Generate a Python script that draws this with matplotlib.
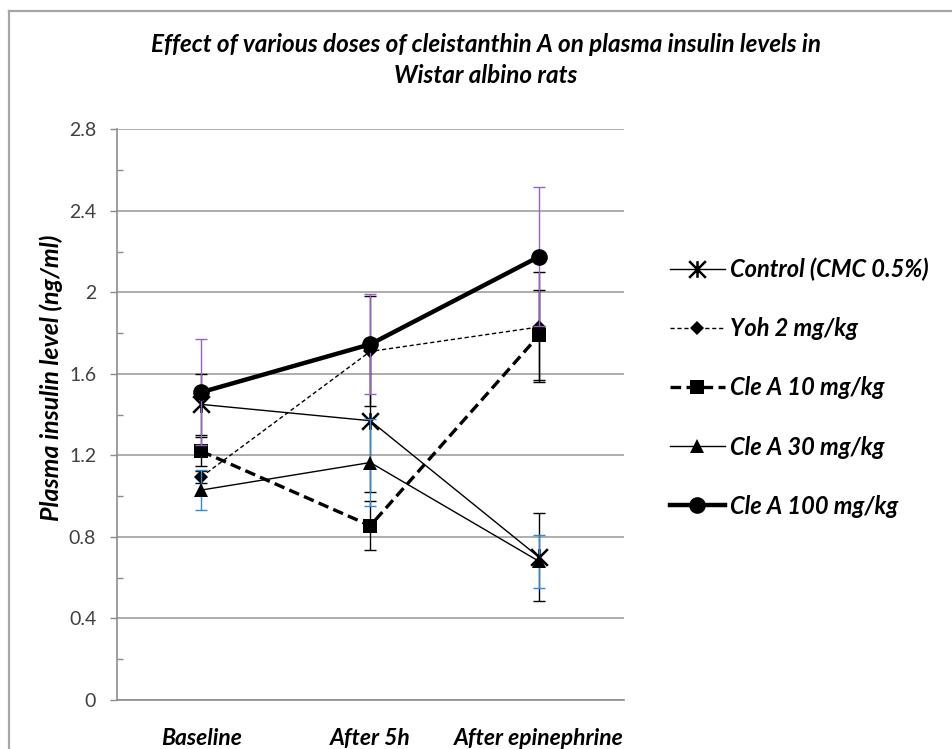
import matplotlib

matplotlib.use("Agg")
import matplotlib.pyplot as plt
import numpy as np
from matplotlib.lines import Line2D
from matplotlib.path import Path

# data
categories = ["Baseline", "After 5h", "After epinephrine"]
series_names = [
    "Control (CMC 0.5%)",
    "Yoh 2 mg/kg",
    "Cle A 10 mg/kg",
    "Cle A 30 mg/kg",
    "Cle A 100 mg/kg",
]
control = [1.45, 1.37, 0.70]
control_err = [0.15, 0.35, 0.215]
yoh = [1.095, 1.71, 1.83]
yoh_err = [0.03, 0.27, 0.27]
cle10 = [1.22, 0.855, 1.79]
cle10_err = [0.07, 0.12, 0.22]
cle30 = [1.03, 1.165, 0.68]
cle30_err = [0.10, 0.215, 0.13]
cle100 = [1.51, 1.745, 2.175]
cle100_err = [0.26, 0.245, 0.34]
y_ticks = [0, 0.4, 0.8, 1.2, 1.6, 2, 2.4, 2.8]

FONT = ["Lato", "DejaVu Sans"]
plt.rcParams["font.family"] = FONT

# Excel-style "star": an X with a vertical bar
star = Path(
    [(-1, -1), (1, 1), (-1, 1), (1, -1), (0, -1), (0, 1)],
    [Path.MOVETO, Path.LINETO, Path.MOVETO, Path.LINETO, Path.MOVETO, Path.LINETO],
)

styles = [
    dict(color="black", lw=1.0, ls="-", marker=star, ms=12, mew=1.8, ecolor="black"),
    dict(color="black", lw=1.0, ls=(0, (3, 2)), marker="D", ms=7.5, mew=0, ecolor="black"),
    dict(color="black", lw=2.4, ls=(0, (3.2, 1.6)), marker="s", ms=10, mew=0, ecolor="black"),
    dict(color="black", lw=1.0, ls="-", marker="^", ms=10.5, mew=0, ecolor="#2F8BD9"),
    dict(color="black", lw=3.2, ls="-", marker="o", ms=12, mew=0, ecolor="#9B62C4"),
]
values = [control, yoh, cle10, cle30, cle100]
errors = [control_err, yoh_err, cle10_err, cle30_err, cle100_err]

fig = plt.figure(figsize=(9.53, 7.49), dpi=100)
ax = fig.add_axes([0.1228, 0.0654, 0.5315, 0.7621])

x = np.arange(len(categories))
handles = []
for i, (name, vals, errs, st) in enumerate(zip(series_names, values, errors, styles)):
    ax.errorbar(
        x, vals, yerr=errs, fmt="none", ecolor=st["ecolor"], elinewidth=1.0,
        capsize=4.5, capthick=1.0, zorder=3 + 2 * i,
    )
    (h,) = ax.plot(
        x, vals, color=st["color"], lw=st["lw"], ls=st["ls"], marker=st["marker"],
        ms=st["ms"], mew=st["mew"], mfc="black", mec="black", label=name,
        zorder=4 + 2 * i,
    )
    handles.append(h)

ax.set_xlim(-0.5, 2.5)
ax.set_ylim(0, 2.8)
ax.set_yticks(y_ticks)
ax.set_yticklabels([f"{t:g}" for t in y_ticks])
ax.set_yticks(np.arange(0.2, 2.8, 0.4), minor=True)
ax.tick_params(axis="y", which="major", direction="out", length=5, width=1,
               color="#8C8C8C", labelsize=14, labelcolor="#404040", pad=10)
ax.tick_params(axis="y", which="minor", direction="in", length=4, width=1, color="#8C8C8C")
ax.set_xticks(x)
ax.set_xticklabels(categories, fontsize=16.5, fontweight="bold", fontstyle="italic")
ax.tick_params(axis="x", length=0, pad=20)
ax.grid(axis="y", which="major", color="#A0A0A0", lw=1.2)
ax.set_axisbelow(True)
for side in ("top", "right"):
    ax.spines[side].set_visible(False)
for side in ("left", "bottom"):
    ax.spines[side].set_color("#8C8C8C")
    ax.spines[side].set_linewidth(1.2)

ax.set_ylabel("Plasma insulin level (ng/ml)", fontsize=18, fontweight="bold",
              fontstyle="italic")
ax.yaxis.set_label_coords(-0.106, 0.565)
fig.text(0.51, 0.92, "Effect of various doses of cleistanthin A on plasma insulin levels in\nWistar albino rats",
         ha="center", va="center", fontsize=17.5, fontweight="bold", fontstyle="italic",
         linespacing=1.42)

fig.legend(
    handles=handles, labels=series_names, loc="upper left",
    bbox_to_anchor=(0.703, 0.656), frameon=False, borderpad=0, borderaxespad=0,
    handlelength=2.33, handletextpad=0.2, labelspacing=1.53,
    prop=dict(size=17, weight="bold", style="italic"),
)

# outer chart border (cropped on right and bottom like the reference)
fig.add_artist(Line2D([0.0094, 0.0094], [0, 0.9853], color="#A6A6A6", lw=1.6))
fig.add_artist(Line2D([0.0094, 1], [0.9853, 0.9853], color="#A6A6A6", lw=1.6))

fig.savefig("out.png", dpi=100)
